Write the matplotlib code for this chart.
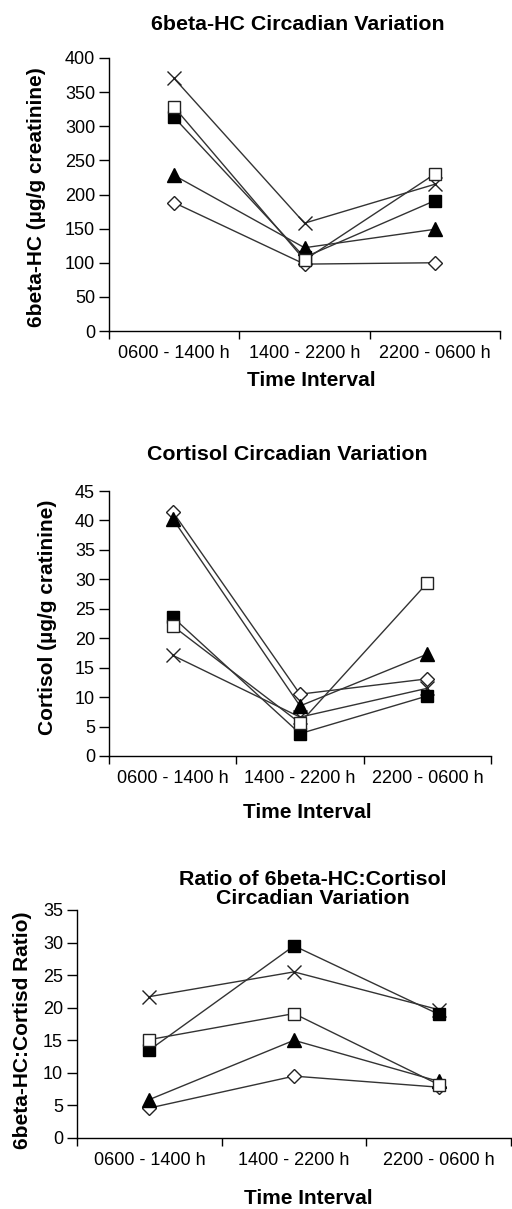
import numpy as np
import matplotlib.pyplot as plt

plt.rcParams['font.family'] = ['Liberation Sans', 'DejaVu Sans']

intervals = ['0600 - 1400 h', '1400 - 2200 h', '2200 - 0600 h']

# 6beta-HC (ug/g creatinine)
hc_x = [370, 158, 215]
hc_osq = [328, 104, 230]
hc_fsq = [313, 108, 191]
hc_tri = [228, 122, 149]
hc_dia = [188, 98, 100]

# cortisol (ug/g creatinine)
co_x = [17.1, 6.6, 11.5]
co_osq = [22.1, 5.6, 29.4]
co_fsq = [23.6, 3.8, 10.2]
co_tri = [40.3, 8.5, 17.3]
co_dia = [41.5, 10.5, 13.1]

# ratio
ra_x = [21.7, 25.5, 19.7]
ra_osq = [15.1, 19.1, 8.2]
ra_fsq = [13.5, 29.5, 19.0]
ra_tri = [5.9, 15.0, 8.7]
ra_dia = [4.6, 9.5, 7.8]

W, H = 512, 1209
fig = plt.figure(figsize=(W / 100, H / 100), dpi=100)


def box(l, t, r, b):
    return [l / W, 1 - b / H, (r - l) / W, (b - t) / H]


def panel(rect, series, ymax, ystep):
    ax = fig.add_axes(box(*rect))
    x = np.arange(3)
    lc = '#333333'
    x_s, osq, fsq, tri, dia = series
    ax.plot(x, x_s, color=lc, lw=1, marker='x', ms=9.5, mew=1, mec='#222222')
    ax.plot(x, dia, color=lc, lw=1, marker='D', ms=7.5, mfc='white', mec='#222222', mew=1)
    ax.plot(x, tri, color=lc, lw=1, marker='^', ms=9.5, mfc='black', mec='black')
    ax.plot(x, fsq, color=lc, lw=1, marker='s', ms=8, mfc='black', mec='black')
    ax.plot(x, osq, color=lc, lw=1, marker='s', ms=8.5, mfc='white', mec='#222222', mew=1)
    ax.set_xlim(-0.5, 2.5)
    ax.set_ylim(0, ymax)
    ax.set_yticks(np.arange(0, ymax + ystep / 2, ystep))
    ax.set_xticks([-0.5, 0.5, 1.5, 2.5])
    ax.set_xticklabels([])
    ax.set_xticks(x, minor=True)
    ax.set_xticklabels(intervals, minor=True)
    ax.tick_params(axis='x', which='major', length=6, width=1, direction='out')
    ax.tick_params(axis='x', which='minor', length=0, pad=10, labelsize=13)
    ax.tick_params(axis='y', length=7, width=1, direction='out', pad=3, labelsize=13)
    for s in ['top', 'right']:
        ax.spines[s].set_visible(False)
    for s in ['left', 'bottom']:
        ax.spines[s].set_linewidth(1)
    return ax


panel((109, 58, 500, 331), [hc_x, hc_osq, hc_fsq, hc_tri, hc_dia], 400, 50)
panel((109, 491, 491, 756), [co_x, co_osq, co_fsq, co_tri, co_dia], 45, 5)
panel((77, 910, 511, 1138), [ra_x, ra_osq, ra_fsq, ra_tri, ra_dia], 35, 5)


def ftext(px, py, s, size=15, **kw):
    fig.text(px / W, 1 - py / H, s, ha='center', va='center', fontsize=size,
             fontweight='bold', **kw)


ftext(298, 25, '6beta-HC Circadian Variation', 15.4)
ftext(287, 455, 'Cortisol Circadian Variation', 15.4)
ftext(313, 889, 'Ratio of 6beta-HC:Cortisol\nCircadian Variation', 15.4, linespacing=1.0)

ftext(311, 380, 'Time Interval')
ftext(307, 812, 'Time Interval')
ftext(308, 1198, 'Time Interval')

ftext(37, 197, '6beta-HC (µg/g creatinine)', rotation=90)
ftext(48, 617, 'Cortisol (µg/g cratinine)', rotation=90)
ftext(23, 1030, '6beta-HC:Cortisd Ratio)', rotation=90)

fig.savefig('out.png', dpi=100)
